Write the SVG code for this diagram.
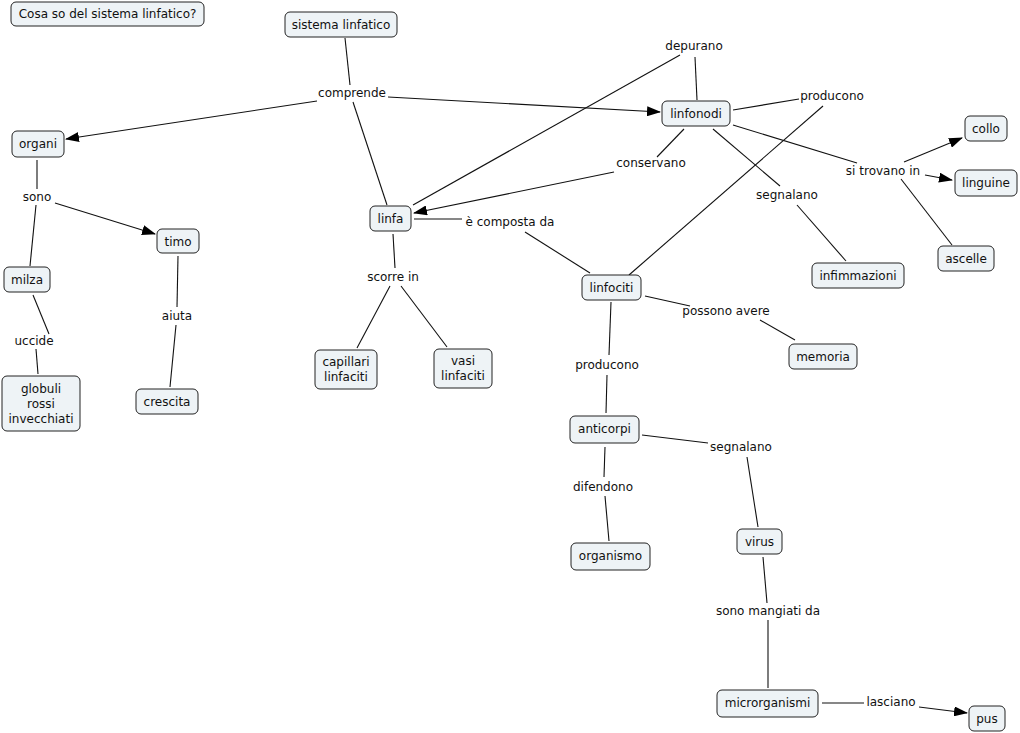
<svg xmlns="http://www.w3.org/2000/svg" width="1020" height="733" viewBox="0 0 1020 733">
<defs>
<style>
.n rect{fill:#eef3f6;stroke:#222;stroke-width:1}
text{font-family:"DejaVu Sans",Verdana,sans-serif;font-size:12px;fill:#111;text-anchor:middle}
.c line{stroke:#111;stroke-width:1.1}
.c line.a{marker-end:url(#ah)}
</style>
<marker id="ah" markerUnits="userSpaceOnUse" markerWidth="14" markerHeight="10" refX="13" refY="5" orient="auto">
<path d="M0,0 L14,5 L0,10 Z" fill="#000"/>
</marker>
</defs>
<rect width="1020" height="733" fill="#fff"/>
<g class="c" id="connectors">
<line x1="345" y1="38" x2="350" y2="85"/>
<line x1="353" y1="102" x2="387" y2="205"/>
<line class="a" x1="317" y1="101" x2="66" y2="139"/>
<line class="a" x1="388" y1="97" x2="660" y2="112"/>
<line x1="697" y1="100" x2="695" y2="57"/>
<line x1="680" y1="55" x2="413" y2="205"/>
<line x1="733" y1="110" x2="799" y2="99"/>
<line x1="823" y1="106" x2="629" y2="275"/>
<line x1="684" y1="129" x2="657" y2="157"/>
<line class="a" x1="614" y1="172" x2="414" y2="213"/>
<line x1="713" y1="129" x2="780" y2="186"/>
<line x1="797" y1="205" x2="846" y2="261"/>
<line x1="733" y1="125" x2="857" y2="163"/>
<line class="a" x1="904" y1="162" x2="962" y2="138"/>
<line class="a" x1="925" y1="175" x2="952" y2="180"/>
<line x1="901" y1="179" x2="952" y2="245"/>
<line x1="414" y1="219" x2="462" y2="219"/>
<line x1="525" y1="232" x2="590" y2="273"/>
<line x1="393" y1="234" x2="395" y2="268"/>
<line x1="390" y1="286" x2="357" y2="348"/>
<line x1="401" y1="286" x2="447" y2="347"/>
<line x1="645" y1="296" x2="690" y2="306"/>
<line x1="760" y1="320" x2="795" y2="340"/>
<line x1="611" y1="302" x2="609" y2="355"/>
<line x1="607" y1="375" x2="606" y2="413"/>
<line x1="642" y1="435" x2="708" y2="443"/>
<line x1="747" y1="457" x2="758" y2="527"/>
<line x1="605" y1="447" x2="604" y2="477"/>
<line x1="605" y1="496" x2="609" y2="541"/>
<line x1="763" y1="557" x2="767" y2="603"/>
<line x1="768" y1="620" x2="768" y2="688"/>
<line x1="822" y1="703" x2="864" y2="703"/>
<line class="a" x1="919" y1="707" x2="967" y2="713"/>
<line x1="37" y1="160" x2="37" y2="189"/>
<line class="a" x1="55" y1="203" x2="155" y2="234"/>
<line x1="36" y1="205" x2="30" y2="266"/>
<line x1="178" y1="256" x2="177" y2="307"/>
<line x1="176" y1="325" x2="170" y2="387"/>
<line x1="33" y1="295" x2="49" y2="334"/>
<line x1="36" y1="349" x2="38" y2="374"/>
</g>
<g id="labels">
<text x="352" y="97">comprende</text>
<text x="694" y="50">depurano</text>
<text x="832" y="100">producono</text>
<text x="651" y="167">conservano</text>
<text x="883" y="175">si trovano in</text>
<text x="787" y="199">segnalano</text>
<text x="510" y="226">è composta da</text>
<text x="393" y="281">scorre in</text>
<text x="726" y="315">possono avere</text>
<text x="607" y="369">producono</text>
<text x="741" y="451">segnalano</text>
<text x="603" y="491">difendono</text>
<text x="768" y="615">sono mangiati da</text>
<text x="891" y="706">lasciano</text>
<text x="37" y="201">sono</text>
<text x="177" y="320">aiuta</text>
<text x="34" y="345">uccide</text>
</g>
<g class="n" id="n-cosa"><rect x="11" y="2" width="193" height="24" rx="5"/><text x="107.5" y="18">Cosa so del sistema linfatico?</text></g>
<g class="n" id="n-sistema"><rect x="285" y="12" width="112" height="25" rx="5"/><text x="341" y="29">sistema linfatico</text></g>
<g class="n" id="n-organi"><rect x="12" y="131" width="52" height="26" rx="5"/><text x="38" y="148">organi</text></g>
<g class="n" id="n-linfonodi"><rect x="662" y="101" width="68" height="25" rx="5"/><text x="696" y="118">linfonodi</text></g>
<g class="n" id="n-collo"><rect x="965" y="116" width="42" height="25" rx="5"/><text x="986" y="133">collo</text></g>
<g class="n" id="n-linguine"><rect x="955" y="170" width="62" height="26" rx="5"/><text x="986" y="187">linguine</text></g>
<g class="n" id="n-ascelle"><rect x="938" y="246" width="56" height="25" rx="5"/><text x="966" y="263">ascelle</text></g>
<g class="n" id="n-infimmazioni"><rect x="812" y="263" width="92" height="25" rx="5"/><text x="858" y="280">infimmazioni</text></g>
<g class="n" id="n-linfa"><rect x="370" y="206" width="41" height="25" rx="5"/><text x="390.5" y="223">linfa</text></g>
<g class="n" id="n-linfociti"><rect x="582" y="275" width="59" height="25" rx="5"/><text x="611.5" y="292">linfociti</text></g>
<g class="n" id="n-memoria"><rect x="789" y="344" width="68" height="25" rx="5"/><text x="823" y="361">memoria</text></g>
<g class="n" id="n-capillari"><rect x="315" y="350" width="62" height="39" rx="5"/><text x="346" y="366">capillari</text><text x="346" y="381">linfaciti</text></g>
<g class="n" id="n-vasi"><rect x="434" y="349" width="58" height="39" rx="5"/><text x="463" y="365">vasi</text><text x="463" y="380">linfaciti</text></g>
<g class="n" id="n-timo"><rect x="157" y="229" width="42" height="24" rx="5"/><text x="178" y="246">timo</text></g>
<g class="n" id="n-milza"><rect x="4" y="267" width="46" height="25" rx="5"/><text x="27" y="284">milza</text></g>
<g class="n" id="n-globuli"><rect x="2" y="376" width="78" height="55" rx="5"/><text x="41" y="393">globuli</text><text x="41" y="408">rossi</text><text x="41" y="423">invecchiati</text></g>
<g class="n" id="n-crescita"><rect x="136" y="389" width="62" height="25" rx="5"/><text x="167" y="406">crescita</text></g>
<g class="n" id="n-anticorpi"><rect x="570" y="416" width="69" height="27" rx="5"/><text x="604.5" y="433">anticorpi</text></g>
<g class="n" id="n-organismo"><rect x="571" y="543" width="79" height="27" rx="5"/><text x="610.5" y="560">organismo</text></g>
<g class="n" id="n-virus"><rect x="737" y="529" width="45" height="25" rx="5"/><text x="759.5" y="546">virus</text></g>
<g class="n" id="n-microrganismi"><rect x="717" y="690" width="101" height="27" rx="5"/><text x="767.5" y="707">microrganismi</text></g>
<g class="n" id="n-pus"><rect x="969" y="706" width="36" height="25" rx="5"/><text x="987" y="723">pus</text></g>
</svg>
